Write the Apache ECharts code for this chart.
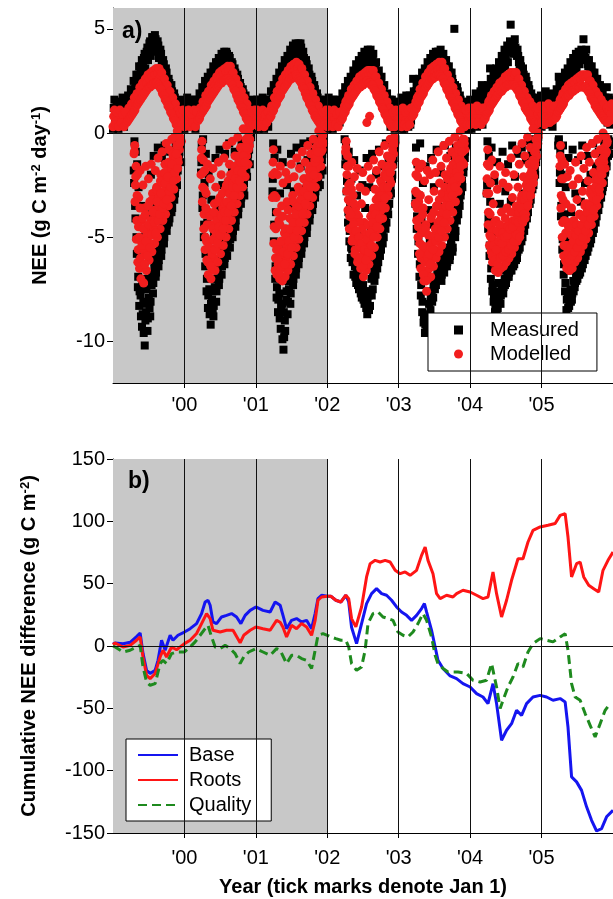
<!DOCTYPE html>
<html>
<head>
<meta charset="utf-8">
<script src="https://cdn.jsdelivr.net/npm/echarts@6/dist/echarts.min.js"></script>
<style>
  html, body { margin: 0; padding: 0; background: #fff; }
  #chart { width: 613px; height: 899px; }
</style>
</head>
<body>
<div id="chart"></div>
<script>
const FONT = '"Liberation Sans", Arial, sans-serif';
const START_YEAR = 1999;
const yearTicks = [2000, 2001, 2002, 2003, 2004, 2005];
const yearLabels = ["'00", "'01", "'02", "'03", "'04", "'05"];
const neeTicks = [-10, -5, 0, 5];
const shadedYears = [1999, 2002];

// daily NEE (one row per year, weeks 0-51)
const measuredUpper = [
  [1.2,0.5,1.4,0.8,1.1,0.3,1.5,0.9,1.3,0.6, 1.4,1.0,1.7,1.3,2.0,1.6,2.4,2.0,2.8,2.4, 3.2,2.8,3.6,3.1,3.9,3.5,4.3,3.7,4.6,4.0, 4.7,4.1,4.4,3.6,4.0,3.3,3.5,2.8,3.1,2.5, 2.6,2.1,2.3,1.6,1.9,1.2,1.5,0.8,1.3,0.5, 1.1,0.7],
  [0.9,1.5,0.4,1.2,0.7,1.6,1.0,0.3,1.3,0.8, 1.5,1.1,1.8,1.4,2.1,1.7,2.3,2.0,2.6,2.2, 2.9,2.5,3.1,2.8,3.4,3.0,3.6,3.2,3.8,3.4, 3.9,3.5,3.7,3.2,3.4,2.9,3.1,2.6,2.8,2.3, 2.4,1.9,2.1,1.5,1.8,1.1,1.4,0.7,1.2,0.4, 1.0,1.4],
  [1.3,0.6,1.1,1.6,0.5,1.2,0.8,1.5,0.4,1.0, 1.6,1.2,1.9,1.5,2.2,1.8,2.5,2.1,2.8,2.4, 3.1,2.7,3.4,3.0,3.7,3.3,3.9,3.5,4.1,3.6, 4.2,3.7,4.3,3.8,3.9,3.3,3.5,2.9,3.1,2.5, 2.7,2.1,2.3,1.7,1.9,1.3,1.6,0.9,1.3,0.6, 1.2,0.8],
  [1.4,0.7,1.2,0.3,1.6,0.9,1.3,0.5,1.1,1.5, 0.9,1.7,1.3,2.0,1.6,2.3,1.9,2.5,2.2,2.8, 2.5,3.1,2.8,3.3,3.0,3.6,3.2,3.8,3.4,4.0, 3.5,4.0,3.6,3.8,3.2,3.4,2.8,3.0,2.5,2.7, 2.1,2.3,1.7,1.9,1.3,1.6,0.9,1.3,0.4,1.1, 1.5,0.6],
  [0.6,1.3,0.2,1.0,1.5,1.8,0.7,1.2,0.4,1.4, 2.6,1.3,2.0,1.6,2.2,1.8,2.5,2.1,2.8,2.4, 3.0,2.7,3.3,2.9,3.5,3.1,3.7,3.3,3.9,3.5, 4.0,3.6,3.8,3.3,3.5,3.0,3.2,2.7,2.9,2.4, 5.0,2.1,2.2,1.6,1.8,1.2,1.5,0.8,1.2,0.3, 1.0,1.4],
  [1.1,0.4,1.5,0.9,1.7,0.6,1.3,2.0,2.3,1.0, 1.6,1.2,1.9,1.5,3.1,1.8,2.4,2.0,2.7,2.3, 3.0,2.6,3.3,2.9,3.6,3.2,3.9,3.4,4.1,5.2, 4.3,3.8,4.5,3.9,4.0,3.4,3.5,2.9,3.1,2.5, 2.7,2.1,2.3,1.6,1.9,1.3,1.6,0.9,1.4,0.7, 1.2,1.8],
  [1.4,0.8,1.9,1.1,1.6,0.6,1.3,1.8,0.9,1.5, 1.2,1.9,2.7,1.6,2.2,1.9,2.5,2.1,2.8,2.4, 3.0,2.7,3.3,2.9,3.5,3.1,3.7,3.3,3.9,3.5, 4.5,3.6,4.0,3.3,3.5,3.0,3.2,2.7,2.9,2.4, 2.6,2.1,2.3,1.7,1.9,1.4,1.7,2.2,1.3,0.8, 1.4,1.0]
];
const measuredUpper2 = [
  [0.2,1.6,0.6,1.5,0.2,1.3,0.7,1.7,0.3,1.5, 1.0,1.8,1.4,2.1,1.8,2.5,2.1,2.8,2.5,3.2, 2.9,3.5,3.2,3.8,3.5,4.1,3.8,4.4,4.1,4.6, 4.2,4.5,3.9,4.2,3.6,3.8,3.1,3.3,2.7,2.9, 2.2,2.4,1.9,2.0,1.5,1.7,1.1,1.4,0.2,1.6, 0.3,1.5],
  [0.2,1.2,1.7,0.3,1.4,0.5,1.3,1.6,0.2,1.5, 1.2,1.9,1.5,2.2,1.8,2.5,2.1,2.7,2.4,2.9, 2.7,3.2,2.9,3.4,3.2,3.6,3.4,3.8,3.5,3.9, 3.6,3.8,3.4,3.6,3.1,3.3,2.8,2.9,2.4,2.6, 2.1,2.2,1.7,1.9,1.3,1.5,1.0,1.3,0.2,1.6, 0.5,0.2],
  [0.3,1.6,0.2,1.4,0.9,1.7,0.2,1.2,1.6,0.3, 1.3,2.0,1.6,2.3,1.9,2.6,2.2,2.9,2.6,3.2, 2.9,3.5,3.2,3.7,3.4,4.0,3.7,4.2,3.9,4.3, 4.0,4.3,3.9,4.1,3.5,3.6,3.1,3.3,2.7,2.8, 2.3,2.5,1.9,2.1,1.5,1.7,1.1,1.4,0.2,1.5, 0.4,1.6],
  [0.2,1.7,0.6,1.5,0.2,1.2,1.6,0.3,1.4,0.5, 1.4,1.9,1.6,2.2,1.9,2.5,2.2,2.7,2.5,3.0, 2.8,3.3,3.0,3.5,3.3,3.7,3.5,3.9,3.7,3.9, 3.8,3.7,3.4,3.5,3.0,3.1,2.6,2.8,2.3,2.4, 1.9,2.0,1.5,1.7,1.1,1.4,0.3,1.6,0.8,0.2, 0.4,1.3],
  [1.5,0.3,1.7,0.5,0.2,1.3,1.6,0.3,1.8,0.6, 1.6,2.0,1.7,2.3,2.0,2.6,2.3,2.9,2.6,3.1, 2.8,3.4,3.1,3.6,3.3,3.8,3.5,3.9,3.7,3.9, 3.8,3.7,3.5,3.5,3.1,3.2,2.8,2.9,2.5,2.6, 2.1,2.3,1.8,2.0,1.4,1.6,1.0,1.3,0.2,1.5, 0.5,0.2],
  [1.6,0.2,1.3,0.5,1.9,0.3,1.6,0.8,1.8,0.4, 1.3,2.0,1.7,2.3,2.0,2.6,2.2,2.9,2.5,3.1, 2.8,3.4,3.1,3.7,3.4,4.0,3.6,4.2,3.9,4.4, 4.1,4.3,4.2,4.1,3.7,3.7,3.2,3.2,2.8,2.8, 2.4,2.5,2.0,2.1,1.6,1.7,1.2,1.5,0.3,1.7, 0.5,1.4],
  [0.3,1.7,0.5,2.0,0.4,1.5,0.7,1.9,0.3,1.6, 1.4,2.1,1.8,2.4,2.0,2.6,2.3,2.9,2.6,3.1, 2.8,3.4,3.1,3.6,3.3,3.8,3.5,3.9,3.7,4.0, 3.8,3.8,3.6,3.5,3.2,3.2,2.9,2.9,2.5,2.6, 2.2,2.3,1.9,2.0,1.6,1.7,1.3,1.5,0.5,1.7, 0.4,1.6]
];
const modelledUpper = [
  [0.8,0.5,1.0,0.6,0.9,0.4,0.8,0.6,1.0,0.7, 0.9,1.2,1.0,1.4,1.3,1.7,1.5,1.9,1.8,2.2, 2.0,2.4,2.2,2.6,2.4,2.8,2.6,2.9,2.7,3.0, 2.8,3.1,2.9,3.1,2.7,2.9,2.4,2.6,2.1,2.3, 1.8,2.0,1.5,1.7,1.2,1.4,0.9,1.1,0.7,0.9, 0.6,0.8],
  [0.6,0.9,0.5,0.8,0.6,1.0,0.7,0.4,0.9,0.6, 1.0,1.2,1.1,1.5,1.4,1.8,1.7,2.0,1.9,2.3, 2.1,2.5,2.3,2.7,2.5,2.9,2.7,3.0,2.8,3.1, 2.9,3.2,3.0,3.2,2.8,2.9,2.5,2.6,2.2,2.3, 1.9,2.0,1.6,1.7,1.3,1.4,1.0,1.1,0.7,0.9, 0.5,0.8],
  [0.7,1.0,0.6,0.9,0.5,0.8,0.6,1.0,0.7,0.9, 1.1,1.3,1.3,1.7,1.6,2.0,1.9,2.3,2.2,2.6, 2.4,2.8,2.6,3.0,2.8,3.2,2.9,3.3,3.0,3.4, 3.1,3.3,2.9,3.1,2.6,2.8,2.3,2.5,2.0,2.2, 1.7,1.9,1.4,1.6,1.1,1.3,0.9,1.0,0.7,0.9, 0.6,0.8],
  [0.8,0.5,0.9,0.6,1.0,0.7,0.5,0.9,0.6,0.8, 1.0,1.1,1.3,1.5,1.6,1.8,1.8,2.1,2.0,2.3, 2.2,2.5,2.4,2.7,2.5,2.8,2.6,2.9,2.7,3.0, 2.8,3.0,2.8,3.0,2.6,2.7,2.3,2.4,2.0,2.1, 1.7,1.8,1.4,1.5,1.1,1.2,0.8,1.0,0.6,0.8, 0.5,0.7],
  [0.7,1.0,0.5,0.8,1.1,0.7,0.9,0.6,1.0,0.8, 1.2,1.3,1.5,1.7,1.8,2.1,2.0,2.4,2.3,2.7, 2.5,2.9,2.7,3.1,2.8,3.2,2.9,3.3,3.0,3.4, 3.1,3.4,3.0,3.1,2.7,2.8,2.4,2.5,2.1,2.2, 1.8,1.9,1.5,1.6,1.2,1.3,0.9,1.1,0.7,0.9, 0.6,0.9],
  [0.8,0.6,1.0,0.7,1.1,0.8,0.6,1.0,0.8,1.1, 1.0,1.2,1.3,1.5,1.6,1.8,1.8,2.0,2.0,2.2, 2.1,2.4,2.3,2.5,2.4,2.7,2.5,2.8,2.6,2.9, 2.7,2.9,2.8,2.9,2.5,2.6,2.2,2.3,1.9,2.0, 1.6,1.7,1.4,1.5,1.2,1.3,1.0,1.1,0.8,0.9, 0.7,1.0],
  [0.9,0.6,1.1,0.8,1.2,0.7,1.0,0.8,1.2,0.9, 1.1,1.3,1.4,1.6,1.7,1.9,1.9,2.1,2.1,2.3, 2.2,2.4,2.3,2.5,2.4,2.6,2.5,2.7,2.6,2.8, 2.7,2.8,2.7,2.8,2.4,2.5,2.2,2.3,1.9,2.0, 1.7,1.8,1.5,1.6,1.3,1.4,1.1,1.2,1.0,1.1, 0.9,1.2]
];
const modelledUpper2 = [
  [0.3,1.1,0.4,1.0,0.3,1.1,0.5,0.9,0.3,1.0, 0.5,0.6,0.7,0.8,0.9,1.0,1.1,1.3,1.4,1.5, 1.6,1.7,1.8,1.9,2.0,2.1,2.2,2.2,2.3,2.3, 2.4,2.4,2.4,2.3,2.2,2.1,1.9,1.8,1.6,1.5, 1.3,1.2,1.0,0.9,0.7,0.6,0.4,0.4,0.3,1.0, 0.4,1.1],
  [0.3,1.0,0.4,1.1,0.3,0.9,0.5,1.1,0.3,1.0, 0.6,0.7,0.9,1.0,1.1,1.2,1.3,1.5,1.6,1.7, 1.8,1.9,2.0,2.1,2.2,2.3,2.4,2.4,2.5,2.5, 2.6,2.6,2.6,2.5,2.4,2.3,2.1,2.0,1.8,1.6, 1.5,1.3,1.2,1.0,0.9,0.7,0.6,0.4,0.3,1.0, 0.4,1.1],
  [0.4,1.1,0.3,1.0,0.4,1.1,0.3,0.9,0.5,1.0, 0.7,0.8,1.0,1.1,1.3,1.4,1.6,1.7,1.8,2.0, 2.1,2.2,2.3,2.4,2.5,2.6,2.6,2.7,2.7,2.8, 2.7,2.6,2.5,2.4,2.2,2.1,1.9,1.7,1.6,1.4, 1.3,1.1,1.0,0.8,0.7,0.6,0.5,0.4,0.3,1.0, 0.4,1.1],
  [0.3,1.1,0.4,1.0,0.3,1.1,0.4,0.9,0.3,1.0, 0.6,0.7,0.9,1.0,1.2,1.3,1.4,1.6,1.7,1.8, 1.9,2.0,2.1,2.2,2.2,2.3,2.3,2.4,2.4,2.5, 2.4,2.4,2.3,2.3,2.1,2.0,1.8,1.7,1.5,1.4, 1.2,1.1,0.9,0.8,0.6,0.5,0.4,0.3,1.0,0.3, 1.1,0.4],
  [0.4,1.1,0.3,1.2,0.4,1.0,0.3,1.1,0.4,1.2, 0.8,0.9,1.1,1.2,1.4,1.5,1.7,1.8,1.9,2.1, 2.2,2.3,2.4,2.5,2.6,2.6,2.7,2.7,2.8,2.8, 2.8,2.7,2.6,2.4,2.3,2.1,2.0,1.8,1.7,1.5, 1.4,1.2,1.1,0.9,0.8,0.6,0.5,0.4,0.3,1.1, 0.4,1.2],
  [0.4,1.2,0.5,1.1,0.4,1.3,0.5,1.1,0.4,1.2, 0.6,0.7,0.9,1.0,1.1,1.3,1.4,1.5,1.6,1.7, 1.8,1.9,2.0,2.0,2.1,2.2,2.2,2.3,2.3,2.3, 2.3,2.3,2.3,2.2,2.1,2.0,1.8,1.7,1.5,1.4, 1.2,1.1,1.0,0.9,0.7,0.6,0.5,0.5,0.4,1.2, 0.5,1.3],
  [0.5,1.3,0.4,1.2,0.5,1.4,0.5,1.2,0.6,1.3, 0.7,0.8,1.0,1.1,1.2,1.3,1.4,1.6,1.7,1.8, 1.8,1.9,2.0,2.0,2.1,2.1,2.2,2.2,2.2,2.3, 2.2,2.2,2.2,2.1,2.0,1.9,1.7,1.6,1.5,1.3, 1.2,1.1,1.0,0.9,0.8,0.7,0.6,0.6,0.5,1.3, 0.6,1.4]
];
// growing-season uptake cloud, weeks 12-49 of each year, several samples per week
const LOW_FIRST_WEEK = 12;
const measuredLowerA = [
  [null,null,null,-1.8,-3.5,-5.0,-7.4,-8.3,-7.8,-9.3,-8.1,-10.2,-8.6,-9.5,-7.9,-8.8,-7.3,-7.7,-6.5,-6.9,-6.0,-6.4,-5.5,-5.9,-5.0,-5.3,-4.4,-4.7,-3.9,-4.1,-3.3,-3.6,-2.8,-2.9,-2.1,-1.8,-1.2,-0.6],
  [-1.9,-3.6,-5.0,-6.4,-7.6,-8.4,-7.5,-9.2,-8.0,-8.8,-7.4,-8.1,-7.0,-7.3,-6.4,-6.8,-6.0,-6.3,-5.6,-5.9,-5.1,-5.5,-4.7,-5.0,-4.2,-4.5,-3.7,-3.9,-3.2,-3.4,-2.6,-2.8,-2.0,-1.9,-1.3,-0.8,null,null],
  [-2.8,-5.2,-7.0,-7.9,-8.6,-7.7,-9.4,-8.2,-10.4,-9.0,-8.0,-8.7,-7.5,-8.2,-6.9,-7.3,-6.5,-6.8,-6.0,-6.3,-5.4,-5.8,-5.0,-5.3,-4.5,-4.8,-4.0,-4.2,-3.5,-3.7,-3.0,-3.1,-2.5,-2.6,-1.9,-2.0,-1.3,-0.8],
  [null,-1.5,-2.8,-4.3,-5.2,-6.0,-5.6,-6.8,-6.4,-7.2,-6.8,-7.5,-7.0,-7.9,-7.3,-8.2,-7.6,-8.7,-7.8,-8.3,-7.0,-7.5,-6.6,-6.8,-6.0,-6.2,-5.4,-5.6,-4.8,-5.0,-4.2,-4.3,-3.5,-3.4,-2.6,-2.2,-1.5,-0.8],
  [-3.4,-4.6,-5.8,-6.9,-7.8,-8.6,-9.1,-9.6,-8.9,-9.3,-8.2,-8.5,-7.6,-7.9,-7.0,-7.3,-6.6,-6.9,-6.3,-7.1,-6.0,-6.7,-5.8,-6.4,-5.5,-6.1,-5.2,-5.7,-4.6,-5.0,-3.9,-3.6,-3.2,-3.0,-2.3,-1.9,-1.2,-0.6],
  [-2.9,-4.6,-5.9,-7.0,-7.6,-8.1,-8.6,-7.9,-8.4,-7.6,-8.2,-7.3,-7.7,-7.0,-7.2,-6.7,-6.9,-6.4,-6.6,-6.1,-6.3,-5.8,-6.0,-5.3,-5.5,-4.8,-5.0,-4.2,-4.4,-3.6,-3.8,-3.0,-3.2,-2.4,-2.5,-1.8,-1.4,-0.7],
  [-0.6,-2.4,-4.0,-5.6,-6.8,-7.6,-8.5,-7.8,-8.3,-7.5,-8.0,-7.1,-7.4,-6.8,-7.0,-6.5,-6.7,-6.1,-6.3,-5.8,-5.9,-5.4,-5.5,-4.9,-5.1,-4.4,-4.6,-3.8,-4.0,-3.3,-3.4,-2.7,-2.8,-2.1,-1.9,-1.4,-0.8,-0.4]
];
const measuredLowerB = [
  [null,null,null,-0.4,-0.9,-1.5,-2.6,-6.0,-3.5,-8.7,-5.0,-9.0,-7.0,-3.9,-8.4,-2.0,-6.0,-1.1,-5.8,-3.5,-0.7,-4.8,-2.9,-1.2,-4.5,-0.6,-3.6,-2.2,-4.3,-0.9,-3.8,-1.4,-3.2,-0.5,-2.5,-1.0,-0.3,-1.4],
  [-0.6,-0.3,-2.4,-1.0,-4.3,-2.0,-5.6,-3.2,-8.6,-4.8,-1.2,-6.5,-3.6,-0.8,-5.2,-2.5,-4.4,-1.0,-3.8,-5.4,-0.5,-3.3,-1.8,-4.4,-0.9,-2.6,-3.9,-1.2,-2.3,-0.4,-1.7,-3.0,-0.8,-2.1,-0.5,-1.5,-0.2,null],
  [-0.5,-1.2,-3.8,-0.8,-5.5,-2.9,-6.2,-1.4,-9.8,-4.6,-2.5,-7.1,-3.5,-1.0,-5.6,-2.8,-4.2,-0.7,-3.5,-5.0,-1.6,-3.9,-0.5,-2.7,-4.1,-1.3,-3.0,-0.4,-2.4,-3.4,-0.9,-2.0,-0.3,-1.4,-2.5,-0.7,-1.8,-0.4],
  [-0.3,-0.6,-1.5,-0.9,-3.4,-2.2,-4.5,-1.3,-5.0,-3.0,-6.2,-1.8,-4.8,-2.5,-5.8,-3.6,-1.2,-6.0,-2.6,-4.7,-1.0,-3.8,-5.6,-2.0,-4.4,-0.8,-3.3,-4.6,-1.6,-3.9,-0.5,-2.8,-1.2,-2.3,-0.4,-1.5,-0.7,-0.3],
  [-0.7,-1.5,-3.0,-0.5,-4.2,-2.4,-5.5,-1.6,-6.8,-3.7,-5.1,-1.2,-4.4,-2.6,-5.9,-0.8,-3.5,-4.8,-1.9,-5.6,-3.0,-0.6,-4.2,-2.3,-5.0,-1.1,-3.6,-2.0,-4.4,-0.7,-2.9,-1.5,-2.4,-0.4,-1.6,-0.9,-0.4,null],
  [-0.4,-1.1,-3.3,-0.7,-4.8,-2.3,-5.9,-1.4,-7.2,-3.4,-5.2,-0.9,-6.6,-2.8,-4.6,-1.5,-5.4,-3.3,-0.6,-4.9,-2.1,-5.1,-1.0,-3.6,-4.4,-0.7,-2.9,-3.8,-1.3,-2.6,-0.4,-2.1,-1.0,-1.7,-0.3,-1.2,-0.5,-0.2],
  [-0.3,-0.9,-2.0,-0.6,-3.9,-2.6,-5.1,-1.2,-6.6,-3.8,-0.8,-5.5,-2.9,-4.6,-1.3,-5.2,-3.3,-0.6,-4.5,-2.4,-5.0,-1.1,-3.7,-2.0,-4.2,-0.5,-2.8,-1.6,-3.5,-0.9,-2.3,-1.2,-2.6,-0.4,-1.5,-0.7,-0.3,-1.0]
];
const measuredLowerC = [
  [null,null,null,-2.4,-4.1,-5.8,-6.9,-7.6,-8.8,-7.3,-9.6,-8.2,-7.5,-8.9,-7.0,-8.1,-6.8,-7.2,-6.2,-6.7,-5.7,-6.1,-5.2,-5.6,-4.7,-5.0,-4.2,-4.4,-3.6,-3.8,-3.0,-3.2,-2.4,-2.6,-1.7,-1.4,-0.9,-0.4],
  [-1.4,-3.0,-4.4,-5.8,-7.0,-7.8,-8.7,-8.2,-7.6,-8.3,-7.0,-7.6,-6.6,-7.0,-6.1,-6.4,-5.7,-6.0,-5.3,-5.5,-4.9,-5.1,-4.4,-4.7,-4.0,-4.2,-3.5,-3.6,-2.9,-3.1,-2.3,-2.4,-1.7,-1.5,-1.0,-0.5,null,null],
  [-2.2,-4.4,-6.4,-7.4,-8.0,-8.9,-8.3,-9.9,-8.6,-9.5,-7.6,-8.1,-7.1,-7.7,-6.6,-7.0,-6.2,-6.5,-5.7,-6.0,-5.2,-5.5,-4.7,-5.0,-4.2,-4.5,-3.7,-3.9,-3.2,-3.4,-2.7,-2.8,-2.2,-2.3,-1.6,-1.7,-1.0,-0.5],
  [null,-1.1,-2.3,-3.8,-4.7,-5.5,-6.2,-6.0,-6.9,-6.6,-7.3,-7.0,-7.7,-7.4,-8.0,-7.6,-8.4,-8.0,-8.5,-7.6,-7.8,-6.9,-7.1,-6.3,-6.5,-5.7,-5.9,-5.1,-5.3,-4.5,-4.6,-3.8,-3.9,-3.0,-2.9,-2.0,-1.2,-0.6],
  [-3.0,-4.0,-5.2,-6.3,-7.3,-8.1,-8.8,-9.2,-9.5,-8.7,-8.9,-7.9,-8.1,-7.3,-7.5,-6.9,-7.0,-6.5,-6.6,-6.8,-6.3,-6.4,-6.1,-6.2,-5.8,-5.9,-5.4,-5.5,-4.9,-4.7,-4.2,-3.9,-3.5,-2.8,-2.6,-1.6,-0.9,-0.4],
  [-2.5,-4.1,-5.4,-6.5,-7.3,-7.8,-8.3,-8.5,-8.0,-8.1,-7.8,-7.6,-7.4,-7.3,-7.0,-6.9,-6.7,-6.6,-6.3,-6.4,-6.0,-6.1,-5.7,-5.6,-5.2,-5.2,-4.6,-4.7,-4.0,-4.1,-3.4,-3.4,-2.8,-2.7,-2.1,-2.0,-1.1,-0.5],
  [-0.4,-1.9,-3.5,-5.1,-6.3,-7.2,-8.0,-8.4,-7.9,-8.1,-7.7,-7.6,-7.2,-7.1,-6.8,-6.8,-6.4,-6.5,-6.1,-6.1,-5.7,-5.7,-5.2,-5.3,-4.7,-4.8,-4.2,-4.3,-3.7,-3.7,-3.1,-3.1,-2.5,-2.4,-1.8,-1.6,-1.1,-0.6]
];
const modelledLowerA = [
  [null,null,null,-1.0,-2.5,-4.2,-5.6,-6.5,-7.0,-6.4,-7.2,-5.8,-6.6,-5.2,-6.1,-4.8,-5.7,-4.5,-5.3,-4.0,-5.0,-3.7,-4.6,-3.4,-4.2,-3.0,-3.9,-2.7,-3.5,-2.4,-3.1,-2.0,-2.7,-1.6,-2.2,-1.2,-0.8,null],
  [-1.2,-2.6,-3.9,-5.0,-6.1,-6.8,-6.2,-7.0,-6.5,-6.0,-6.6,-5.5,-6.2,-5.0,-5.8,-4.7,-5.4,-4.3,-5.0,-3.9,-4.6,-3.5,-4.2,-3.1,-3.8,-2.8,-3.4,-2.4,-3.0,-2.0,-2.6,-1.6,-2.1,-1.1,-1.5,-0.6,null,null],
  [-2.0,-4.5,-6.0,-6.8,-6.3,-7.0,-6.5,-7.1,-6.2,-6.9,-6.0,-6.6,-5.6,-6.3,-5.2,-5.9,-4.8,-5.5,-4.4,-5.1,-4.0,-4.7,-3.6,-4.3,-3.2,-3.9,-2.9,-3.5,-2.5,-3.1,-2.1,-2.6,-1.7,-2.1,-1.3,-1.6,-0.8,-0.5],
  [null,-0.9,-2.0,-3.2,-4.0,-4.6,-5.1,-4.8,-5.6,-5.2,-6.0,-5.5,-6.5,-5.9,-6.9,-6.1,-6.6,-5.8,-6.3,-5.4,-5.9,-5.0,-5.5,-4.6,-5.0,-4.2,-4.6,-3.7,-4.1,-3.2,-3.6,-2.7,-3.0,-2.2,-2.4,-1.6,-1.0,-0.5],
  [-2.8,-3.6,-4.5,-5.3,-6.0,-6.6,-7.1,-6.7,-7.6,-7.0,-6.5,-6.9,-6.0,-6.4,-5.6,-6.0,-5.2,-5.7,-4.9,-5.4,-4.5,-5.0,-4.1,-4.6,-3.7,-4.2,-3.3,-3.8,-2.9,-3.3,-2.4,-2.8,-1.9,-2.2,-1.4,-1.5,-0.8,null],
  [-2.2,-3.8,-4.9,-5.7,-6.2,-5.8,-6.6,-6.1,-6.7,-5.9,-6.5,-5.6,-6.4,-5.4,-6.2,-5.2,-6.0,-4.9,-5.8,-4.7,-5.5,-4.4,-5.2,-4.0,-4.8,-3.7,-4.3,-3.3,-3.9,-2.8,-3.3,-2.4,-2.7,-1.9,-2.1,-1.3,-1.1,-0.5],
  [null,-1.6,-3.0,-4.3,-5.4,-6.1,-6.5,-6.0,-6.6,-6.2,-6.5,-5.8,-6.2,-5.4,-6.0,-5.1,-5.7,-4.8,-5.4,-4.5,-5.1,-4.2,-4.8,-3.8,-4.4,-3.4,-4.0,-3.0,-3.5,-2.5,-3.0,-2.0,-2.4,-1.4,-1.7,-0.9,null,null]
];
const modelledLowerB = [
  [null,null,null,-0.6,-1.6,-2.0,-3.1,-1.8,-4.2,-2.5,-3.6,-1.6,-4.5,-2.2,-3.3,-1.5,-2.9,-3.8,-1.8,-2.6,-1.2,-3.0,-2.0,-0.9,-2.4,-1.5,-0.5,-1.9,-0.8,-1.6,-0.3,-1.1,-0.2,-0.9,0.1,-0.6,-0.2,-0.4],
  [-0.4,-1.3,-1.8,-2.9,-1.5,-3.8,-2.2,-4.4,-1.7,-3.4,-2.6,-4.0,-1.4,-3.1,-2.0,-3.6,-1.2,-2.7,-0.6,-2.3,-1.5,-2.9,-0.4,-1.9,-1.1,-2.2,-0.2,-1.4,-0.7,-1.7,0.2,-0.9,-0.3,-0.7,0.0,null,null,null],
  [-0.8,-1.9,-3.1,-2.0,-4.2,-1.6,-3.5,-2.4,-4.8,-1.9,-3.3,-2.2,-4.1,-1.5,-3.0,-2.1,-3.7,-1.2,-2.6,-1.7,-3.2,-0.9,-2.2,-1.4,-2.8,-0.6,-1.8,-1.0,-2.2,-0.3,-1.3,-0.7,-1.5,0.1,-0.8,-0.3,-0.1,null],
  [null,-0.4,-1.1,-1.6,-2.4,-1.4,-3.0,-2.1,-3.6,-1.7,-4.0,-2.6,-3.4,-1.9,-4.3,-2.8,0.5,-1.6,0.8,-2.2,-3.9,-1.3,-2.7,-1.8,-3.1,-0.9,-2.3,-1.5,-2.7,-0.6,-1.8,-1.1,-2.0,-0.3,-1.2,-0.6,-0.2,null],
  [-1.4,-2.1,-1.7,-3.0,-1.5,-3.6,-2.3,-4.4,-1.8,-3.2,-2.0,-4.0,-1.3,-2.8,-1.9,-3.5,-0.9,-2.4,-1.6,-3.1,-0.6,-2.0,-1.2,-2.7,-0.4,-1.7,-0.9,-2.2,-0.2,-1.3,-0.6,-1.6,0.1,-0.8,-0.3,-0.5,null,null],
  [-0.8,-1.6,-2.4,-1.3,-3.4,-2.0,-4.2,-2.7,-4.8,-1.6,-3.8,-2.4,-4.5,-1.9,-3.6,-2.6,-4.3,-1.2,-3.1,-2.0,-3.8,-0.8,-2.6,-1.5,-3.2,-0.5,-2.1,-1.1,-2.5,-0.2,-1.5,-0.7,-1.8,0.2,-0.9,-0.3,-0.6,0.0],
  [null,-0.6,-1.3,-2.2,-1.5,-3.4,-2.1,-4.3,-1.8,-3.6,-2.5,-4.6,-1.4,-3.2,-2.2,-3.9,-1.1,-2.8,-1.7,-3.4,-0.7,-2.3,-1.4,-2.7,-0.5,-1.9,-1.0,-2.2,-0.3,-1.4,-0.8,-1.6,0.0,-0.7,-0.2,-0.4,null,null]
];
const modelledLowerC = [
  [null,null,null,-0.9,-2.1,-3.0,-4.5,-3.6,-5.2,-4.1,-5.6,-3.9,-4.9,-3.5,-5.3,-4.2,-3.2,-4.6,-3.7,-2.7,-4.0,-3.1,-2.3,-3.6,-2.8,-1.9,-3.0,-2.2,-1.4,-2.5,-1.7,-1.0,-1.9,-1.2,-0.6,-1.4,-0.5,null],
  [-0.8,-1.9,-2.7,-3.6,-4.4,-5.3,-4.0,-5.6,-4.6,-3.8,-5.0,-4.2,-3.3,-4.7,-3.9,-2.9,-4.2,-3.4,-2.5,-3.7,-2.9,-2.0,-3.2,-2.4,-1.6,-2.7,-1.9,-1.1,-2.2,-1.4,-0.7,-1.6,-0.9,-0.4,-0.8,-0.3,null,null],
  [-1.4,-3.0,-4.6,-3.8,-5.4,-4.4,-5.8,-4.0,-5.2,-4.6,-5.5,-3.7,-4.9,-4.1,-5.0,-3.3,-4.5,-3.6,-4.2,-2.8,-3.8,-3.0,-3.6,-2.2,-3.1,-2.4,-2.9,-1.6,-2.4,-1.8,-2.2,-1.0,-1.6,-1.1,-0.5,-0.9,-0.4,null],
  [null,-0.7,-1.6,-2.5,-3.3,-2.7,-4.1,-3.4,-4.7,-3.9,-5.2,-4.3,-5.5,-4.6,-5.8,-4.9,-5.4,-4.4,-5.1,-4.0,-4.7,-3.6,-4.3,-3.2,-3.9,-2.8,-3.5,-2.4,-3.0,-2.0,-2.6,-1.6,-2.1,-1.2,-1.6,-0.8,-0.5,null],
  [-2.0,-2.9,-3.3,-4.1,-4.8,-3.9,-5.6,-4.6,-5.9,-4.9,-5.4,-4.1,-5.0,-3.8,-4.6,-3.5,-4.3,-3.2,-3.9,-2.9,-3.6,-2.6,-3.2,-2.2,-2.9,-1.9,-2.5,-1.5,-2.1,-1.1,-1.7,-0.8,-1.2,-0.5,-0.9,-0.3,null,null],
  [-1.5,-2.9,-3.9,-4.6,-5.1,-4.3,-5.5,-4.7,-5.8,-4.4,-5.3,-4.8,-5.6,-4.1,-5.0,-4.5,-5.3,-3.8,-4.8,-4.2,-5.0,-3.5,-4.4,-3.8,-4.6,-3.0,-3.8,-3.2,-3.6,-2.3,-2.9,-2.0,-2.4,-1.3,-1.6,-0.9,-0.6,-0.2],
  [null,-1.1,-2.2,-3.2,-4.2,-4.8,-5.4,-4.5,-5.6,-4.9,-5.3,-4.2,-5.1,-4.4,-4.9,-3.9,-4.7,-4.0,-4.4,-3.5,-4.2,-3.4,-3.9,-2.9,-3.6,-2.8,-3.2,-2.3,-2.8,-2.0,-2.3,-1.3,-1.7,-0.9,-1.0,-0.5,null,null]
];
const modelledLowerD = [
  [null,null,null,null,-3.3,-5.1,-6.2,-5.0,-6.0,-5.4,-4.6,-6.3,-5.2,-5.9,-4.4,-5.5,-4.9,-3.8,-4.3,-4.8,-3.3,-4.2,-3.9,-2.9,-3.6,-3.4,-2.4,-3.2,-2.1,-2.8,-2.6,-1.5,-2.3,-1.9,-1.0,-1.7,null,null],
  [-2.0,-3.3,-4.6,-5.6,-5.2,-6.2,-5.5,-6.4,-5.8,-5.1,-5.6,-4.8,-5.3,-4.5,-4.9,-4.0,-4.6,-3.8,-4.2,-3.3,-3.8,-2.9,-3.5,-2.6,-3.0,-2.2,-2.6,-1.8,-2.3,-1.4,-1.9,-1.1,-1.4,-0.7,null,null,null,null],
  [-3.1,-5.3,-6.6,-5.6,-6.1,-6.7,-5.2,-6.4,-5.7,-6.3,-5.0,-5.8,-5.2,-4.6,-5.5,-4.3,-5.0,-3.9,-4.7,-3.5,-4.3,-3.2,-3.9,-2.8,-3.4,-2.5,-3.0,-2.1,-2.6,-1.8,-2.0,-1.4,-1.2,-0.9,null,null,null,null],
  [null,null,-2.8,-3.7,-4.6,-3.9,-5.2,-4.4,-5.8,-4.7,-6.2,-5.0,-6.0,-5.3,-6.4,-5.6,-6.1,-5.1,-5.7,-4.8,-5.4,-4.3,-5.0,-3.9,-4.5,-3.5,-4.1,-3.0,-3.5,-2.6,-3.1,-2.1,-2.6,-1.7,-1.9,null,null,null],
  [-3.4,-4.2,-5.0,-5.8,-6.5,-5.4,-6.8,-6.2,-7.1,-6.0,-5.8,-6.3,-5.3,-5.6,-4.9,-5.2,-4.6,-5.0,-4.2,-4.7,-3.8,-4.3,-3.5,-3.9,-3.1,-3.5,-2.7,-3.0,-2.3,-2.6,-1.9,-2.1,-1.3,-1.6,-0.9,null,null,null],
  [-2.9,-4.4,-5.4,-5.0,-5.9,-5.4,-6.1,-5.6,-6.3,-5.2,-6.0,-5.3,-5.9,-5.0,-5.7,-4.9,-5.6,-4.6,-5.4,-4.5,-5.2,-4.2,-4.9,-4.3,-5.0,-3.6,-4.2,-3.9,-4.1,-3.0,-3.5,-2.6,-3.0,-1.9,-2.4,-1.5,null,null],
  [null,null,-3.6,-5.0,-5.9,-5.4,-6.2,-5.7,-6.1,-5.5,-5.9,-5.2,-5.7,-4.9,-5.5,-4.7,-5.2,-4.4,-5.0,-4.1,-4.7,-3.8,-4.4,-3.5,-4.1,-3.1,-3.7,-2.6,-3.2,-2.2,-2.7,-1.7,-2.0,-1.2,null,null,null,null]
];

// cumulative NEE difference, [decimal year, g C m-2]
const baseCum = [[1999.0,1.5],[1999.03,2.4],[1999.14,1.8],[1999.24,3.0],[1999.33,7.5],[1999.38,10.4],[1999.42,-5.9],[1999.47,-19.5],[1999.52,-22],[1999.59,-19.5],[1999.63,-11.5],[1999.68,4.6],[1999.73,-3.4],[1999.80,8.6],[1999.84,4.6],[1999.91,8.6],[2000.0,11.2],[2000.08,13.9],[2000.17,18],[2000.24,26],[2000.29,35.3],[2000.33,36.7],[2000.36,32.7],[2000.40,19.3],[2000.45,18],[2000.52,23.3],[2000.59,24.6],[2000.66,26],[2000.73,23.3],[2000.79,18],[2000.85,24.6],[2000.92,28.6],[2001.0,31.3],[2001.10,28.6],[2001.20,27.3],[2001.27,35.3],[2001.34,32.7],[2001.38,24.6],[2001.43,13.9],[2001.50,20.6],[2001.57,22],[2001.64,19.3],[2001.71,20.6],[2001.78,13.9],[2001.83,26],[2001.87,38],[2001.92,40.7],[2002.0,39.9],[2002.05,39.9],[2002.12,36.7],[2002.19,35.3],[2002.26,40.7],[2002.30,35.3],[2002.34,15],[2002.41,1.9],[2002.48,18],[2002.55,34],[2002.62,42],[2002.69,46],[2002.76,42],[2002.83,40.7],[2002.90,36.7],[2002.97,31.3],[2003.04,27.3],[2003.11,24.6],[2003.18,20.6],[2003.25,24.6],[2003.32,30],[2003.36,34],[2003.39,27.3],[2003.46,12.6],[2003.51,-0.8],[2003.55,-11.5],[2003.62,-18],[2003.72,-24],[2003.81,-26.2],[2003.90,-30.2],[2004.0,-32.9],[2004.09,-38.2],[2004.18,-40.9],[2004.25,-46.2],[2004.32,-30.2],[2004.37,-46.2],[2004.44,-75.6],[2004.51,-67.6],[2004.58,-62.3],[2004.65,-51.6],[2004.72,-55.6],[2004.79,-46.2],[2004.88,-40.9],[2004.98,-39.6],[2005.07,-40.9],[2005.16,-43.5],[2005.26,-42.2],[2005.33,-44.9],[2005.37,-65],[2005.42,-105],[2005.49,-109],[2005.56,-115.8],[2005.63,-129],[2005.70,-139.8],[2005.77,-148.4],[2005.84,-146.5],[2005.91,-137],[2006.0,-131.8]];
const rootsCum = [[1999.0,1.0],[1999.03,2.4],[1999.14,-0.8],[1999.24,0.5],[1999.33,4.6],[1999.38,7.3],[1999.42,-8.8],[1999.47,-23.5],[1999.52,-26.2],[1999.59,-22],[1999.66,-8.8],[1999.70,-3.4],[1999.75,-8.8],[1999.82,-0.8],[1999.89,-3],[2000.0,1.9],[2000.08,4.6],[2000.17,10],[2000.24,18],[2000.31,26],[2000.36,22],[2000.40,12.6],[2000.50,11.2],[2000.59,12.6],[2000.68,12.6],[2000.78,2.6],[2000.83,8.6],[2000.92,12.6],[2001.0,15.3],[2001.10,13.9],[2001.20,12.6],[2001.29,20.6],[2001.34,19],[2001.38,15],[2001.43,7.3],[2001.50,16.6],[2001.57,13.9],[2001.64,18],[2001.71,15.3],[2001.78,8.6],[2001.83,20.6],[2001.87,36.7],[2001.92,39.3],[2002.0,39.9],[2002.05,39.9],[2002.12,36.7],[2002.19,35.3],[2002.26,40.7],[2002.30,38],[2002.34,22],[2002.40,15.3],[2002.48,31.3],[2002.55,55.4],[2002.60,66],[2002.67,68.7],[2002.74,67.4],[2002.81,68.7],[2002.88,67.4],[2002.95,60.7],[2003.02,58],[2003.09,59.4],[2003.16,56.7],[2003.25,60.7],[2003.32,72.7],[2003.37,79.4],[2003.41,68.7],[2003.48,58],[2003.53,42],[2003.58,38],[2003.67,40.7],[2003.76,39.3],[2003.81,42],[2003.90,44.7],[2004.0,43.3],[2004.09,40.7],[2004.18,38],[2004.25,39.3],[2004.32,59.4],[2004.37,42],[2004.44,23.3],[2004.51,36.7],[2004.58,52.7],[2004.67,70],[2004.74,70],[2004.81,83.4],[2004.88,92.8],[2004.98,95.5],[2005.09,96.8],[2005.19,98.2],[2005.26,104.8],[2005.33,106.2],[2005.37,87.4],[2005.42,55.4],[2005.49,66],[2005.54,67.4],[2005.59,55.4],[2005.66,48.7],[2005.73,46],[2005.80,43.3],[2005.86,60.7],[2005.93,68.7],[2006.0,75.4]];
const qualityCum = [[1999.0,0],[1999.03,-0.8],[1999.14,-4.8],[1999.24,-3.4],[1999.33,-0.8],[1999.38,0.5],[1999.42,-16.8],[1999.47,-28.9],[1999.52,-31.5],[1999.59,-30.2],[1999.66,-14.1],[1999.70,-11.5],[1999.75,-14.1],[1999.82,-6.1],[1999.89,-4.8],[2000.0,-4.8],[2000.08,-0.8],[2000.15,3.3],[2000.22,8.6],[2000.29,13.9],[2000.33,16.6],[2000.38,7.3],[2000.43,-0.8],[2000.50,-2.1],[2000.57,0.5],[2000.64,-2.1],[2000.71,-6.1],[2000.78,-14.1],[2000.83,-8.8],[2000.90,-4.8],[2001.0,-2.1],[2001.10,-4.8],[2001.20,-7.5],[2001.29,-2.1],[2001.34,-3.4],[2001.43,-14.1],[2001.50,-7.5],[2001.57,-7.5],[2001.64,-10.1],[2001.71,-11.5],[2001.78,-18],[2001.83,-3.4],[2001.87,8.6],[2001.94,9.9],[2002.05,7.3],[2002.12,5.9],[2002.19,4.6],[2002.26,4.6],[2002.30,-0.8],[2002.34,-14.1],[2002.41,-19.5],[2002.48,-16.8],[2002.53,-3.4],[2002.57,18],[2002.64,26],[2002.71,27.3],[2002.78,23.3],[2002.85,22],[2002.92,20.6],[2002.99,11.2],[2003.06,8.6],[2003.13,7.3],[2003.20,11.2],[2003.27,18],[2003.34,26],[2003.39,20.6],[2003.46,7.3],[2003.51,-7.5],[2003.55,-14.1],[2003.62,-18],[2003.69,-20.9],[2003.76,-20.9],[2003.83,-20.9],[2003.95,-22],[2004.04,-27.5],[2004.14,-28.9],[2004.23,-27.5],[2004.30,-14.1],[2004.37,-32.9],[2004.42,-50.2],[2004.46,-43.5],[2004.53,-32.9],[2004.60,-24.9],[2004.67,-14.1],[2004.74,-16.8],[2004.81,-4.8],[2004.88,1.9],[2004.98,5.9],[2005.07,4.6],[2005.16,3.3],[2005.26,7.3],[2005.33,9.9],[2005.37,-3.4],[2005.42,-30.2],[2005.47,-40.9],[2005.54,-43.5],[2005.61,-54.2],[2005.68,-63.6],[2005.75,-73],[2005.82,-62.3],[2005.89,-51.6],[2005.96,-46.2]];

// turn the per-year weekly rows into [decimal year, value] points
function weekly(rows, firstWeek, shift) {
  const out = [];
  rows.forEach((vals, y) => {
    vals.forEach((v, i) => {
      if (v !== null) out.push([START_YEAR + y + (firstWeek + i + shift) / 52, v]);
    });
  });
  return out;
}

const measuredPts = [].concat(
  weekly(measuredUpper, 0, 0.5), weekly(measuredUpper2, 0, 0),
  weekly(measuredLowerA, LOW_FIRST_WEEK, 0.1), weekly(measuredLowerB, LOW_FIRST_WEEK, 0.6),
  weekly(measuredLowerC, LOW_FIRST_WEEK, 0.35)
);
const modelledPts = [].concat(
  weekly(modelledUpper, 0, 0.5), weekly(modelledUpper2, 0, 0),
  weekly(modelledLowerA, LOW_FIRST_WEEK, 0.3), weekly(modelledLowerB, LOW_FIRST_WEEK, 0.8),
  weekly(modelledLowerC, LOW_FIRST_WEEK, 0.55), weekly(modelledLowerD, LOW_FIRST_WEEK, 0.05)
);

function xAxisFor(gridIndex, margin, extra) {
  return Object.assign({
    type: 'value', gridIndex: gridIndex, min: 1999, max: 2006, interval: 1,
    axisLine: { onZero: false, lineStyle: { color: '#000', width: 1 } },
    axisTick: { length: 5, lineStyle: { color: '#000' }, customValues: yearTicks },
    axisLabel: {
      fontSize: 20, color: '#000', fontFamily: FONT, margin: margin, customValues: yearTicks,
      formatter: v => yearLabels[yearTicks.indexOf(Math.round(v))] || ''
    },
    splitLine: { show: false }
  }, extra || {});
}

const nameStyle = {
  fontSize: 20, fontWeight: 'bold', color: '#000', fontFamily: FONT,
  rich: { sup: { fontSize: 13, fontWeight: 'bold', fontFamily: FONT, verticalAlign: 'top', color: '#000' } }
};

function shade(xi, yi) {
  return {
    type: 'line', xAxisIndex: xi, yAxisIndex: yi, data: [], z: 0, silent: true,
    markArea: {
      silent: true, itemStyle: { color: '#c8c8c8' },
      data: [[{ xAxis: shadedYears[0] }, { xAxis: shadedYears[1] }]]
    }
  };
}
// zero line and the Jan 1 year lines, drawn above everything else
function guideLines(xi, yi) {
  return {
    type: 'line', xAxisIndex: xi, yAxisIndex: yi, data: [], z: 5, silent: true,
    markLine: {
      silent: true, symbol: 'none', label: { show: false }, animation: false,
      lineStyle: { color: '#111', width: 1, type: 'solid' },
      data: [{ yAxis: 0 }].concat(yearTicks.map(y => ({ xAxis: y })))
    }
  };
}

const chart = echarts.init(document.getElementById('chart'));
chart.setOption({
  animation: false,
  textStyle: { fontFamily: FONT, color: '#000' },
  grid: [
    { left: 113, top: 8, width: 500, height: 375 },
    { left: 113, top: 459, width: 500, height: 374 }
  ],
  xAxis: [
    xAxisFor(0, 12),
    xAxisFor(1, 15, {
      name: 'Year (tick marks denote Jan 1)', nameLocation: 'middle', nameGap: 44,
      nameTextStyle: nameStyle
    })
  ],
  yAxis: [
    {
      type: 'value', gridIndex: 0, min: -12, max: 6,
      name: 'NEE (g C m{sup|-2} day{sup|-1})', nameLocation: 'middle', nameGap: 63,
      nameTextStyle: nameStyle,
      axisLine: { show: true, onZero: false, lineStyle: { color: '#000', width: 1 } },
      axisTick: { show: true, length: 6, lineStyle: { color: '#000' }, customValues: neeTicks },
      axisLabel: { fontSize: 20, color: '#000', fontFamily: FONT, margin: 8, customValues: neeTicks },
      splitLine: { show: false }
    },
    {
      type: 'value', gridIndex: 1, min: -150, max: 150, interval: 50,
      name: 'Cumulative NEE difference (g C m{sup|-2})', nameLocation: 'middle', nameGap: 74,
      nameTextStyle: nameStyle,
      axisLine: { show: true, onZero: false, lineStyle: { color: '#000', width: 1 } },
      axisTick: { show: true, length: 6, lineStyle: { color: '#000' } },
      axisLabel: { fontSize: 20, color: '#000', fontFamily: FONT, margin: 8 },
      splitLine: { show: false }
    }
  ],
  legend: [
    {
      orient: 'vertical', left: 428, top: 313,
      data: [{ name: 'Measured', icon: 'rect' }, { name: 'Modelled', icon: 'circle' }],
      itemWidth: 9, itemHeight: 9, itemGap: 4, padding: [7, 18, 7, 26],
      backgroundColor: '#fff', borderColor: '#000', borderWidth: 1, borderRadius: 0,
      textStyle: { fontSize: 20, color: '#000', fontFamily: FONT, padding: [0, 0, 0, 22] }
    },
    {
      orient: 'vertical', left: 126, top: 739,
      data: ['Base', 'Roots', 'Quality'],
      itemWidth: 40, itemHeight: 12, itemGap: 5, padding: [6, 20, 6, 11],
      itemStyle: { opacity: 0 },
      backgroundColor: '#fff', borderColor: '#000', borderWidth: 1, borderRadius: 0,
      textStyle: { fontSize: 20, color: '#000', fontFamily: FONT, padding: [0, 0, 0, 6] }
    }
  ],
  graphic: [
    { type: 'text', left: 122, top: 20, z: 10, style: { text: 'a)', font: 'bold 23px ' + FONT, fill: '#000' } },
    { type: 'text', left: 128, top: 470, z: 10, style: { text: 'b)', font: 'bold 23px ' + FONT, fill: '#000' } }
  ],
  series: [
    shade(0, 0),
    shade(1, 1),
    {
      name: 'Measured', type: 'scatter', xAxisIndex: 0, yAxisIndex: 0, z: 2,
      symbol: 'rect', symbolSize: 8, progressive: 0, large: false,
      itemStyle: { color: '#000', opacity: 1 }, emphasis: { disabled: true },
      data: measuredPts
    },
    {
      name: 'Modelled', type: 'scatter', xAxisIndex: 0, yAxisIndex: 0, z: 2,
      symbol: 'circle', symbolSize: 9, progressive: 0, large: false,
      itemStyle: { color: '#f21e1e', opacity: 1 }, emphasis: { disabled: true },
      data: modelledPts
    },
    {
      name: 'Base', type: 'line', xAxisIndex: 1, yAxisIndex: 1, z: 3, symbol: 'none',
      lineStyle: { color: '#1515f0', width: 3 }, itemStyle: { color: '#1515f0' },
      data: baseCum
    },
    {
      name: 'Roots', type: 'line', xAxisIndex: 1, yAxisIndex: 1, z: 3, symbol: 'none',
      lineStyle: { color: '#ff1515', width: 3 }, itemStyle: { color: '#ff1515' },
      data: rootsCum
    },
    {
      name: 'Quality', type: 'line', xAxisIndex: 1, yAxisIndex: 1, z: 3, symbol: 'none',
      lineStyle: { color: '#1e8a1e', width: 3, type: [9, 5] }, itemStyle: { color: '#1e8a1e' },
      data: qualityCum
    },
    guideLines(0, 0),
    guideLines(1, 1)
  ]
});
</script>
</body>
</html>
